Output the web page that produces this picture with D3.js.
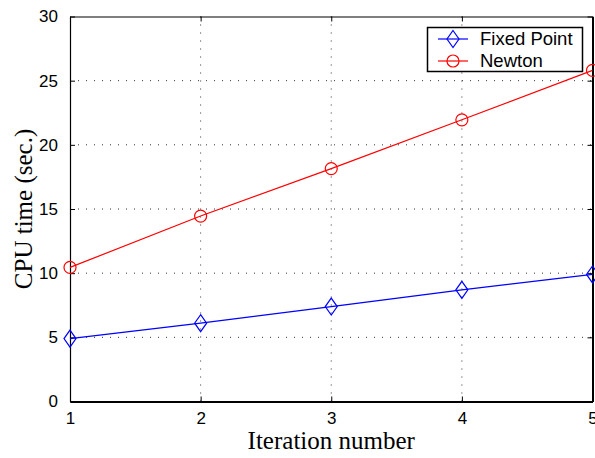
<!DOCTYPE html>
<html>
<head>
<meta charset="utf-8">
<script src="https://cdn.jsdelivr.net/npm/d3@7"></script>
<style>
  html, body { margin: 0; padding: 0; background: #fff; }
  svg { display: block; }
</style>
</head>
<body>
<script>
// Iteration counts and CPU time (seconds) for the two solvers
const iterations = [1, 2, 3, 4, 5];
const fixedPointTime = [4.9, 6.1, 7.4, 8.7, 9.9];
const newtonTime = [10.45, 14.45, 18.15, 21.95, 25.8];
const xTicks = [1, 2, 3, 4, 5];
const yTicks = [0, 5, 10, 15, 20, 25, 30];
const seriesNames = ["Fixed Point", "Newton"];

const W = 595, H = 458;
const margin = { left: 70, top: 16.5, right: 2.5, bottom: 56.5 };
const innerW = W - margin.left - margin.right;
const innerH = H - margin.top - margin.bottom;

const svg = d3.select("body").append("svg")
  .attr("width", W).attr("height", H);

const x = d3.scaleLinear().domain([1, 5]).range([margin.left, margin.left + innerW]);
const y = d3.scaleLinear().domain([0, 30]).range([margin.top + innerH, margin.top]);

const tickFont = "Liberation Sans, Arial, Helvetica, sans-serif";
const serif = "Liberation Serif, Times New Roman, serif";

// dotted grid
const grid = svg.append("g");
grid.selectAll("line.gx").data(xTicks.slice(1, -1)).join("line")
  .attr("x1", d => x(d)).attr("x2", d => x(d))
  .attr("y1", y(0)).attr("y2", y(30))
  .attr("stroke", "#333").attr("stroke-width", 1)
  .attr("stroke-dasharray", "1,7");
grid.selectAll("line.gy").data(yTicks.slice(1, -1)).join("line")
  .attr("y1", d => y(d)).attr("y2", d => y(d))
  .attr("x1", x(1)).attr("x2", x(5))
  .attr("stroke", "#333").attr("stroke-width", 1)
  .attr("stroke-dasharray", "1,7");

// axes with inward ticks, mirrored on top and right
const tickLen = 5;
svg.append("g").attr("transform", `translate(0,${y(0)})`)
  .call(d3.axisBottom(x).tickValues(xTicks).tickFormat(d3.format("d")).tickSizeInner(-tickLen).tickSizeOuter(0).tickPadding(10.5))
  .call(g => g.select(".domain").attr("stroke", "#000").attr("stroke-width", 2))
  .call(g => g.selectAll("text").attr("font-family", tickFont).attr("font-size", 17).attr("fill", "#000"));
svg.append("g").attr("transform", `translate(${x(1)},0)`)
  .call(d3.axisLeft(y).tickValues(yTicks).tickSizeInner(-tickLen).tickSizeOuter(0).tickPadding(12))
  .call(g => g.select(".domain").attr("stroke", "#000").attr("stroke-width", 1.2))
  .call(g => g.selectAll("text").attr("font-family", tickFont).attr("font-size", 17).attr("fill", "#000"));
svg.append("g").attr("transform", `translate(0,${y(30)})`)
  .call(d3.axisTop(x).tickValues(xTicks).tickFormat("").tickSizeInner(-tickLen).tickSizeOuter(0))
  .call(g => g.select(".domain").attr("stroke", "#000").attr("stroke-width", 1.2));
svg.append("g").attr("transform", `translate(${x(5)},0)`)
  .call(d3.axisRight(y).tickValues(yTicks).tickFormat("").tickSizeInner(-tickLen).tickSizeOuter(0))
  .call(g => g.select(".domain").attr("stroke", "#000").attr("stroke-width", 2));

// axis titles
svg.append("text")
  .attr("x", (x(1) + x(5)) / 2).attr("y", 449)
  .attr("text-anchor", "middle")
  .attr("font-family", serif).attr("font-size", 25)
  .text("Iteration number");
svg.append("text")
  .attr("transform", `translate(32,${(y(0) + y(30)) / 2}) rotate(-90)`)
  .attr("text-anchor", "middle")
  .attr("font-family", serif).attr("font-size", 25)
  .text("CPU time (sec.)");

// marker shapes
const diamond = (cx, cy) => `M${cx},${cy - 8.5}L${cx + 6},${cy}L${cx},${cy + 8.5}L${cx - 6},${cy}Z`;

const series = [
  { name: seriesNames[0], values: fixedPointTime, color: "#0000ff", marker: "diamond" },
  { name: seriesNames[1], values: newtonTime, color: "#ff0000", marker: "circle" }
];

const line = d3.line().x((d, i) => x(iterations[i])).y(d => y(d));

series.forEach(s => {
  const g = svg.append("g");
  g.append("path").datum(s.values)
    .attr("d", line).attr("fill", "none")
    .attr("stroke", s.color).attr("stroke-width", 1.2);
  if (s.marker === "circle") {
    g.selectAll("circle").data(s.values).join("circle")
      .attr("cx", (d, i) => x(iterations[i])).attr("cy", d => y(d)).attr("r", 6)
      .attr("fill", "none").attr("stroke", s.color).attr("stroke-width", 1.2);
  } else {
    g.selectAll("path.m").data(s.values).join("path").attr("class", "m")
      .attr("d", (d, i) => diamond(x(iterations[i]), y(d)))
      .attr("fill", "none").attr("stroke", s.color).attr("stroke-width", 1.2);
  }
});

// legend
const lg = svg.append("g");
lg.append("rect").attr("x", 427.5).attr("y", 27.5).attr("width", 155).attr("height", 44)
  .attr("fill", "#fff").attr("stroke", "#000").attr("stroke-width", 1.5);
series.forEach((s, i) => {
  const cy = 39 + i * 22;
  lg.append("line").attr("x1", 438).attr("x2", 468).attr("y1", cy).attr("y2", cy)
    .attr("stroke", s.color).attr("stroke-width", 1.2);
  if (s.marker === "circle") {
    lg.append("circle").attr("cx", 453).attr("cy", cy).attr("r", 6)
      .attr("fill", "none").attr("stroke", s.color).attr("stroke-width", 1.2);
  } else {
    lg.append("path").attr("d", diamond(453, cy))
      .attr("fill", "none").attr("stroke", s.color).attr("stroke-width", 1.2);
  }
  lg.append("text").attr("x", 480).attr("y", cy).attr("dy", "0.35em")
    .attr("font-family", tickFont).attr("font-size", 18.5).attr("fill", "#000")
    .text(s.name);
});
</script>
</body>
</html>
